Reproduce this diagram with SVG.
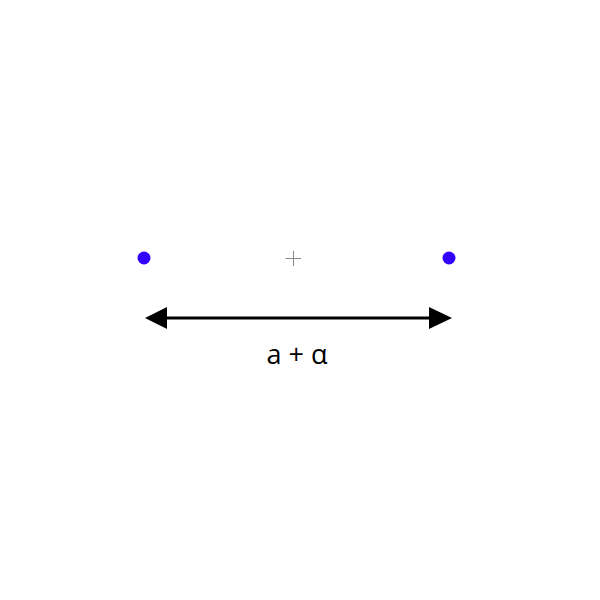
<svg xmlns="http://www.w3.org/2000/svg" width="600" height="600" viewBox="0 0 600 600">
<style>
.pt{fill:#3300ff}
.lbl{font-family:"Open Sans","Liberation Sans",sans-serif;font-size:27px;fill:#000}
</style>
<rect width="600" height="600" fill="#fff"/>
<g id="p1"><circle class="pt" cx="144" cy="258" r="6.5"/></g>
<g id="p2"><circle class="pt" cx="449" cy="258" r="6.5"/></g>
<g id="center"><path d="M285.5 258.5H301M293.5 251V266" stroke="#888" stroke-width="1" fill="none"/></g>
<g id="connectors">
<line x1="165" y1="318" x2="431" y2="318" stroke="#000" stroke-width="3"/>
<polygon points="145,318 167,307 167,329" fill="#000"/>
<polygon points="452,318 429,307 429,329" fill="#000"/>
</g>
<g id="label"><text class="lbl" x="297" y="364" text-anchor="middle">a + α</text></g>
</svg>
